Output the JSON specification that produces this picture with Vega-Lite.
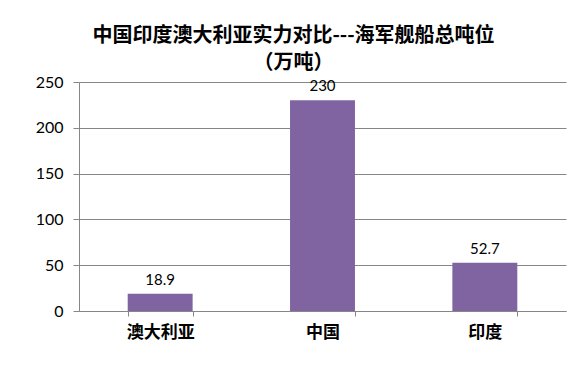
{
  "$schema": "https://vega.github.io/schema/vega-lite/v6.json",
  "autosize": "none",
  "width": 487,
  "height": 229,
  "padding": {"left": 79, "top": 82, "right": 21, "bottom": 58},
  "background": "white",
  "title": {
    "text": ["中国印度澳大利亚实力对比---海军舰船总吨位", "（万吨）"],
    "font": "Noto Sans CJK SC",
    "fontSize": 20,
    "fontWeight": "bold",
    "lineHeight": 27,
    "color": "#000000",
    "anchor": "middle",
    "dx": -29,
    "offset": 1
  },
  "data": {
    "values": [
      {"country": "澳大利亚", "tonnage": 18.9},
      {"country": "中国", "tonnage": 230},
      {"country": "印度", "tonnage": 52.7}
    ]
  },
  "encoding": {
    "x": {
      "field": "country",
      "type": "nominal",
      "sort": null,
      "scale": {"paddingInner": 0.6, "paddingOuter": 0.3},
      "axis": {
        "title": null,
        "labelAngle": 0,
        "tickBand": "extent",
        "labelFont": "Noto Sans CJK SC",
        "labelFontSize": 17,
        "labelFontWeight": "bold",
        "labelColor": "#000000",
        "labelPadding": 8,
        "tickSize": 5,
        "tickColor": "#868686",
        "domainColor": "#868686",
        "grid": false
      }
    },
    "y": {
      "field": "tonnage",
      "type": "quantitative",
      "scale": {"domain": [0, 250], "nice": false},
      "axis": {
        "title": null,
        "values": [0, 50, 100, 150, 200, 250],
        "labelFont": "Lato",
        "labelFontSize": 16,
        "labelColor": "#000000",
        "labelPadding": 10,
        "tickSize": 6,
        "tickColor": "#868686",
        "domainColor": "#868686",
        "gridColor": "#868686",
        "grid": true
      }
    }
  },
  "layer": [
    {"mark": {"type": "bar", "color": "#8064A2"}},
    {
      "mark": {"type": "text", "baseline": "bottom", "dy": -6, "font": "Lato", "fontSize": 15, "color": "#000000"},
      "encoding": {"text": {"field": "tonnage", "type": "quantitative"}}
    }
  ],
  "config": {"view": {"stroke": null}}
}
